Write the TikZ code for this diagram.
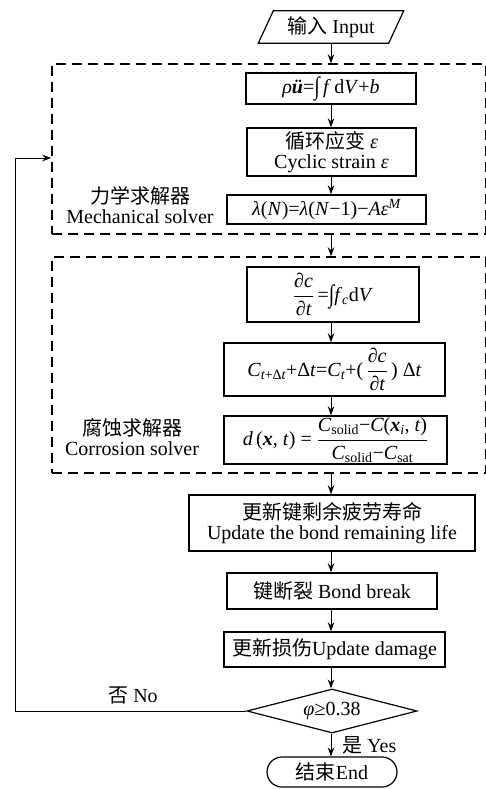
\documentclass[tikz,border=0pt]{standalone}
\usepackage{fontspec}
\usepackage{amsmath}
\setmainfont{Liberation Serif}
\newfontfamily\cjk{Noto Sans CJK SC}
\newcommand\zh[1]{{\cjk #1}}
\newcommand\vi[1]{\textit{#1}}
\newcommand\vb[1]{\textbf{\itshape #1}}
\newcommand\intg{\raisebox{-1pt}{\scalebox{1}[1.25]{∫}}}
\usetikzlibrary{arrows.meta,shapes.geometric}
\begin{document}
\begin{tikzpicture}[x=1pt,y=-1pt,
  font=\fontsize{20}{20}\selectfont,
  box/.style={draw, line width=1.4pt, inner sep=0pt, align=center},
  dbox/.style={draw, line width=1.5pt, dash pattern=on 10pt off 6pt, inner sep=0pt},
  arr/.style={-{Stealth[length=9pt,width=6.5pt]}, line width=1pt},
  lbl/.style={align=center, inner sep=0pt}]
\useasboundingbox (0,0) rectangle (485,789);

% input
\node[inner sep=0pt, minimum width=130pt, minimum height=32pt] (in) at (331,27) {\zh{输入} Input};
\draw[line width=1.2pt] ([xshift=7.5pt]in.north west) -- ([xshift=7.5pt]in.north east)
  -- ([xshift=-7.5pt]in.south east) -- ([xshift=-7.5pt]in.south west) -- cycle;

% mechanical solver
\node[dbox, minimum width=434pt, minimum height=170pt] (mech) at (269,149) {};
\node[box, minimum width=170pt, minimum height=31pt] (eq1) at (331,88.5)
  {\vi{ρ}\vb{ü}=\intg\,\vi{f}\,d\vi{V}+\vi{b}};
\node[box, minimum width=169pt, minimum height=48pt] (strain) at (331.5,152)
  {\zh{循环应变} \vi{ε}\\Cyclic strain \vi{ε}};
\node[box, minimum width=199pt, minimum height=29pt] (lam) at (326.5,209.5)
  {\vi{λ}(\vi{N})=\vi{λ}(\vi{N}−1)−\vi{Aε}$^{\vi{M}}$};
\node[lbl] (mlab) at (140,205) {\zh{力学求解器}\\Mechanical solver};

% corrosion solver
\node[dbox, minimum width=434pt, minimum height=216pt] (corr) at (269,365) {};
\node[box, minimum width=172pt, minimum height=55pt] (dcdt) at (333,294.5)
  {$\dfrac{\vi{∂c}}{\vi{∂t}}$\,=\intg\vi{f}$_{\vi{c}}$d\vi{V}};
\node[box, minimum width=221pt, minimum height=53pt] (cstep) at (334.5,369.5)
  {\vi{C}$_{\vi{t}\textup{+Δ}\vi{t}}$+Δ\vi{t}=\vi{C}$_{\vi{t}}$+(\,$\dfrac{\vi{∂c}}{\vi{∂t}}$\,) Δ\vi{t}};
\node[box, minimum width=223pt, minimum height=48pt] (dxt) at (335.5,440)
  {\vi{d}\,(\vb{x}, \vi{t}) = $\dfrac{\vi{C}_{\textup{solid}}\textup{−}\vi{C}\textup{(}\vb{x}_{\vi{i}}\textup{, }\vi{t}\textup{)}}{\vi{C}_{\textup{solid}}\textup{−}\vi{C}_{\textup{sat}}}$};
\node[lbl] (clab) at (132,437) {\zh{腐蚀求解器}\\Corrosion solver};

% update steps
\node[box, minimum width=286pt, minimum height=56pt] (upd) at (332,523)
  {\zh{更新键剩余疲劳寿命}\\Update the bond remaining life};
\node[box, minimum width=210pt, minimum height=36pt] (brk) at (332,591)
  {\zh{键断裂} Bond break};
\node[box, minimum width=221pt, minimum height=35pt] (dmg) at (334.5,649.5)
  {\zh{更新损伤}Update damage};
\node[draw, diamond, aspect=3.86, line width=1.2pt, minimum width=170pt, minimum height=44pt, inner sep=0pt] (dia) at (332,711)
  {\vi{φ}≥0.38};
\node[draw, rounded corners=15pt, line width=1.2pt, minimum width=130pt, minimum height=30pt, inner sep=0pt] (end) at (332,772)
  {\zh{结束}End};
\node[lbl] (no) at (133,695) {\zh{否} No};
\node[lbl, anchor=west] (yes) at (342,745) {\zh{是} Yes};

% connectors
\draw[arr] (in.south) -- (in.south |- mech.north);
\draw[arr] (eq1.south -| in) -- (in |- strain.north);
\draw[arr] (strain.south -| in) -- (in |- lam.north);
\draw[arr] (in |- mech.south) -- (in |- corr.north);
\draw[arr] (in |- dcdt.south) -- (in |- cstep.north);
\draw[arr] (in |- cstep.south) -- (in |- dxt.north);
\draw[arr] (in |- corr.south) -- (in |- upd.north);
\draw[arr] (in |- upd.south) -- (in |- brk.north);
\draw[arr] (in |- brk.south) -- (in |- dmg.north);
\draw[arr] (in |- dmg.south) -- (in |- dia.north);
\draw[arr] (in |- dia.south) -- (in |- end.north);
\coordinate (loop) at (15,158);
\draw[arr] (dia.west) -| (loop) -- (loop -| mech.west);
\end{tikzpicture}
\end{document}
